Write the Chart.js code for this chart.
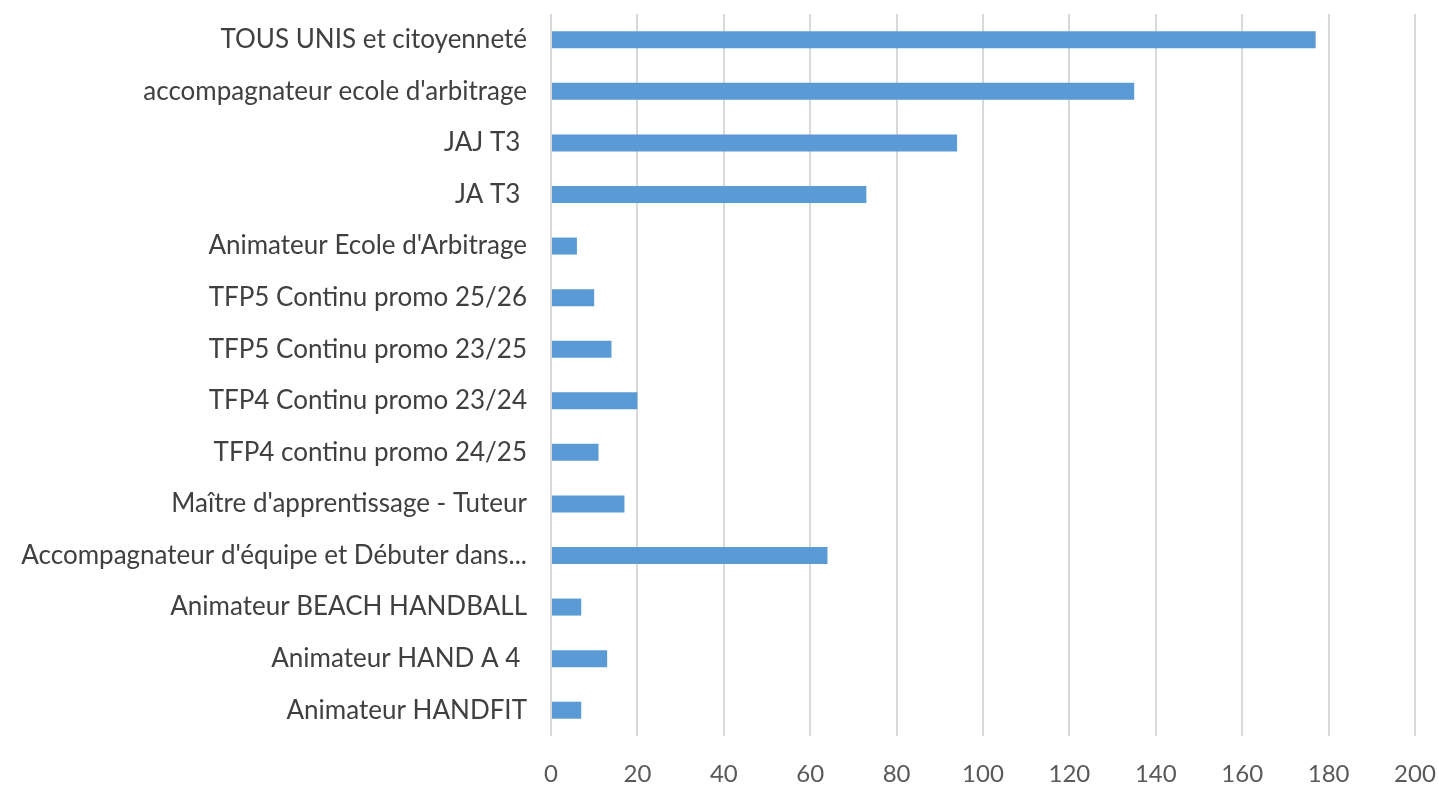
<!DOCTYPE html>
<html>
<head>
<meta charset="utf-8">
<script src="https://cdn.jsdelivr.net/npm/chart.js@4"></script>
<style>
    html, body { margin: 0; padding: 0; background: #ffffff; }
    #wrap { width: 1439px; height: 786px; }
</style>
</head>
<body>
<div id="wrap"><canvas id="formChart" width="1439" height="786"></canvas></div>
<script>
// Data
const categories = [
    'TOUS UNIS et citoyenneté',
    "accompagnateur ecole d'arbitrage",
    'JAJ T3 ',
    'JA T3 ',
    "Animateur Ecole d'Arbitrage",
    'TFP5 Continu promo 25/26',
    'TFP5 Continu promo 23/25',
    'TFP4 Continu promo 23/24',
    'TFP4 continu promo 24/25',
    "Maître d'apprentissage - Tuteur",
    "Accompagnateur d'équipe et Débuter dans...",
    'Animateur BEACH HANDBALL',
    'Animateur HAND A 4 ',
    'Animateur HANDFIT'
];
const participants = [177, 135, 94, 73, 6, 10, 14, 20, 11, 17, 64, 7, 13, 7];
const xTicks = [0, 20, 40, 60, 80, 100, 120, 140, 160, 180, 200];

const FONT = "Lato, 'Open Sans', sans-serif";

document.addEventListener('DOMContentLoaded', function() {
    Chart.defaults.animation = false;

    new Chart(document.getElementById('formChart'), {
        type: 'bar',
        data: {
            labels: categories,
            datasets: [{
                data: participants,
                backgroundColor: '#5b9bd5',
                borderWidth: 0,
                categoryPercentage: 1,
                barPercentage: 0.33
            }]
        },
        options: {
            indexAxis: 'y',
            responsive: false,
            layout: { padding: { top: 14, right: 24, bottom: 0, left: 0 } },
            plugins: {
                legend: { display: false },
                tooltip: { enabled: false }
            },
            scales: {
                x: {
                    min: 0,
                    max: 200,
                    afterBuildTicks: function(scale) {
                        scale.ticks = xTicks.map(v => ({ value: v }));
                    },
                    grid: { color: '#d9d9d9', lineWidth: 2, drawTicks: false },
                    border: { display: false },
                    afterFit: function(scale) {
                        scale.height = 50;
                        scale.paddingLeft = 0;
                        scale.paddingRight = 0;
                    },
                    ticks: {
                        padding: 24,
                        color: '#595959',
                        font: { family: FONT, size: 24 }
                    }
                },
                y: {
                    grid: { display: false },
                    border: { display: false },
                    afterFit: function(scale) {
                        scale.width = 551;
                        scale.paddingTop = 0;
                        scale.paddingBottom = 0;
                    },
                    ticks: {
                        padding: 16,
                        color: '#404040',
                        autoSkip: false,
                        font: { family: FONT, size: 26 }
                    }
                }
            }
        }
    });
});
</script>
</body>
</html>
